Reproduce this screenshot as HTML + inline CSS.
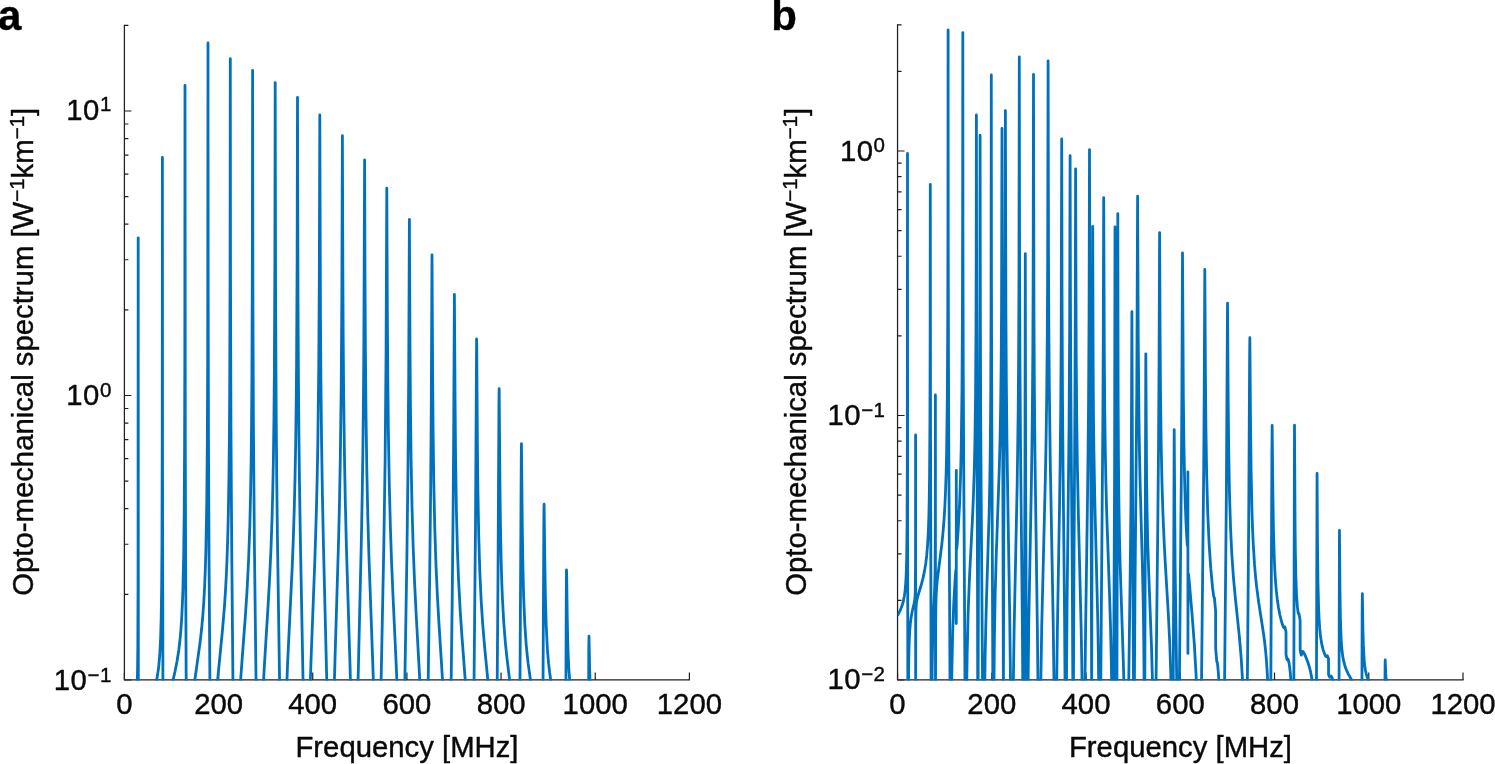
<!DOCTYPE html>
<html lang="en">
<head>
<meta charset="utf-8">
<title>Opto-mechanical spectrum</title>
<style>
html,body{margin:0;padding:0;background:#fff;}
body{width:1495px;height:764px;overflow:hidden;}
svg{display:block;}
text{font-family:"Liberation Sans", sans-serif;font-size:29.3px;fill:#0a0a0a;stroke:#0a0a0a;stroke-width:0.4px;stroke-linejoin:round;}
.pl{font-weight:bold;font-size:42px;fill:#000;}
.curve{fill:none;stroke:#0072BD;stroke-width:2.8;stroke-linejoin:round;stroke-linecap:butt;}
</style>
</head>
<body>
<svg width="1495" height="764" viewBox="0 0 1495 764">
<rect width="1495" height="764" fill="#fff"/>
<defs>
<clipPath id="ca"><rect x="124.40" y="24.30" width="565.00" height="656.20"/></clipPath>
<clipPath id="cb"><rect x="897.55" y="23.80" width="565.45" height="656.70"/></clipPath>
</defs>
<!-- panel a -->
<text class="pl" x="-2" y="30.3">a</text>
<path d="M124.40 24.70V679.80H690.05" fill="none" stroke="#1f1f1f" stroke-width="1.25" stroke-linejoin="miter"/>
<path d="M124.40 680.00h7M124.40 395.50h7M124.40 111.00h7M124.40 594.36h4M124.40 544.26h4M124.40 508.71h4M124.40 481.14h4M124.40 458.62h4M124.40 439.57h4M124.40 423.07h4M124.40 408.52h4M124.40 309.86h4M124.40 259.76h4M124.40 224.21h4M124.40 196.64h4M124.40 174.12h4M124.40 155.07h4M124.40 138.57h4M124.40 124.02h4M124.40 25.36h4M124.40 680.00v-7.4M218.57 680.00v-7.4M312.73 680.00v-7.4M406.90 680.00v-7.4M501.07 680.00v-7.4M595.23 680.00v-7.4M689.40 680.00v-7.4" fill="none" stroke="#1f1f1f" stroke-width="1.2"/>
<text x="124.4" y="714" text-anchor="middle">0</text>
<text x="218.6" y="714" text-anchor="middle">200</text>
<text x="312.7" y="714" text-anchor="middle">400</text>
<text x="406.9" y="714" text-anchor="middle">600</text>
<text x="501.1" y="714" text-anchor="middle">800</text>
<text x="595.2" y="714" text-anchor="middle">1000</text>
<text x="689.4" y="714" text-anchor="middle">1200</text>
<text x="111.8" y="690.3" text-anchor="end" letter-spacing="0.5">10<tspan font-size="20.5" dy="-8.6">−1</tspan></text>
<text x="111.8" y="405.3" text-anchor="end" letter-spacing="0.5">10<tspan font-size="20.5" dy="-8.6">0</tspan></text>
<text x="111.8" y="119.9" text-anchor="end" letter-spacing="0.5">10<tspan font-size="20.5" dy="-8.6">1</tspan></text>
<g clip-path="url(#ca)"><path class="curve" d="M124.40 710L134 710L134.20 709.70L135.37 705.11L136.22 699.51L136.81 692.48L137.28 681.72L137.59 667.36L137.80 648.57L138.05 583.16L138.20 237.80L138.35 710L145 710L149.80 700.09L152.40 694.06L154 689.67L155.20 685.76L156.20 681.89L157.20 677.13L158.60 667.82L159.73 655.47L160.60 638.72L161.20 617.28L161.63 588.59L161.95 546.68L162.25 438.53L162.40 157.30L162.55 474.83L162.97 710L167.20 710L167.40 709.72L168.40 702.46L169.80 694.61L175 671.50L177 661.47L178.80 650L180.20 637.82L181 628.51L181.80 616.19L182.40 603.69L182.89 589.86L183.69 554.66L184.20 511.62L184.57 449.61L184.80 366.68L185 85.40L185.30 443.66L185.65 561.80L186.31 710L191.40 710L191.60 709.35L192.60 698.27L194 685.94L200 643.04L201.60 629.01L202.80 615.83L203.80 601.73L204.60 587.03L205.33 568.96L205.89 550.16L206.76 503.24L207.35 438.23L207.70 353.77L208 43L208.15 283.95L208.45 430.73L209.04 558.50L210.11 710L215.40 710L216.80 690.23L217.80 678.04L222.40 630.80L224.40 607.05L225.40 592.21L226.20 577.76L227 559.64L227.60 542.23L228.32 514.13L228.91 479.72L229.38 437L229.69 392.04L230.10 264.78L230.30 58.70L230.50 273.99L230.95 428.53L231.78 556.41L233.20 709.33L233.30 710L238.80 710L239 709.35L240 690.42L241 674.58L245.40 615.63L247 591.36L248.60 559.93L249.77 526.99L250.49 497.86L251.12 461.40L251.56 423.39L251.91 377.43L252.35 261.70L252.60 70.30L252.90 292.75L253.42 425.12L254.40 545.27L256.40 710L262.20 710L263.20 687.57L264.20 668.57L268.20 603.62L269.60 578.68L271 548.23L272 519.83L272.80 489.48L273.44 456.28L273.96 417.15L274.38 370.35L274.88 261.66L275.20 82.60L275.58 290.91L276.24 422.01L276.77 481.32L277.40 534.79L280 710L285.60 710L285.80 709.90L287.60 663.41L292.20 567.10L293.20 541.86L294.20 511.06L294.99 479.83L295.63 446L296.19 405.12L296.58 363.89L297.12 261.40L297.50 97.30L298.01 302.67L298.37 369.86L298.89 432.76L299.48 482.89L300.33 537.64L303.60 710L309.40 710L311.20 655.44L314.80 561.74L316.40 510.51L317.20 476.95L317.82 443.87L318.76 365.60L319.35 268.96L319.80 114.90L320.45 313.85L320.90 379.82L321.56 441.15L322.40 494.45L323.40 543L327.40 706.10L327.60 710L333.60 710L335 659.47L338.60 539.43L339.40 506.28L340.20 465.16L341.23 385.16L341.86 293.50L342.40 135.70L342.83 267.05L343.17 334.91L343.71 399.65L344.40 452.67L345.23 498L346.40 546.49L350 664.68L351.20 709.51L351.40 710L357.20 710L357.40 709.85L361.40 538.33L362.20 496.24L362.84 454.11L363.43 400.47L363.87 342.14L364.60 159.90L365.05 284.83L365.42 351.13L366 414.72L366.80 469.49L367.80 516.22L369 558.25L372.80 664.07L374.20 708.45L374.40 710L380.40 710L380.60 705.76L383.80 546.67L385.14 459.28L386.07 353.05L386.80 188.20L387.34 311.99L387.78 376.97L388.40 433.50L389.31 485.66L390.40 527.68L391.60 562.49L393 595.78L396.40 669.04L398 710L404.40 710L406.89 556.61L408 467.48L408.71 374.56L409.40 219.30L409.97 342.13L410.40 401.64L411.06 457.72L412 506.67L413.20 547.93L414.60 582.78L416 611.04L419.40 673.14L421.20 710L427.60 710L427.80 709.70L429.77 568.46L430.69 485.40L431.31 399.90L432 254.80L432.61 369.69L433.10 431.02L433.80 483.25L434.80 529.06L436 565.29L437.40 596L439 624.09L442.40 677.78L444.20 710L450.80 710L452.17 602.61L453.09 513.78L453.67 433.86L454.40 294.40L455.09 403.15L455.60 458.82L456.38 509.31L457.40 549.29L458.60 580.72L460.20 610.66L461.80 634.30L465.40 682.12L467.20 710L473.77 710L473.80 708.96L475.50 524.75L476.60 339L476.75 347.80L477.40 444.27L477.91 490.71L478.71 534.61L479.80 571.39L481.20 601.42L482.80 625.45L484.60 646.55L488.60 688.07L490.40 710L497 710L498 578.28L498.95 404.27L499.15 388.70L499.87 477.33L500.41 523.07L501.21 562.99L501.77 581.78L502.40 597.95L503.80 623.16L505.40 643.04L507 658.48L511.20 693.06L513 710L519.83 710L521.25 459.94L521.45 443.70L522.27 524.71L522.80 561.61L523.63 596.17L524.80 624.11L526.20 644.65L527.20 655.22L528.20 663.91L530.40 679.40L535.20 709.41L535.40 710L542.90 710L543.80 530.48L543.95 510.25L544.10 504.20L544.92 568.82L545.40 596.43L546.20 624.82L547.20 645.71L547.80 654.39L548.60 663.45L549.60 672.20L550.60 679.18L551.80 686.12L553 692.09L557.20 710L565.83 710L566.25 598.45L566.50 569.80L566.65 573.76L567.20 614.85L567.64 637.48L568.20 655.82L568.91 670.25L570 683.61L571.20 692.87L572 697.44L573 702.08L575.20 709.99L588.55 710L588.80 647.87L589 636.20L589.67 669.75L590.20 686.65L591.03 700.66L591.63 706.58L592 709.40L592.20 710L689.20 710.00"/></g>
<text transform="translate(32.8 351.8) rotate(-90)" text-anchor="middle">Opto-mechanical spectrum [W<tspan font-size="20.5" dy="-8.6">−1</tspan><tspan dy="8.6">km</tspan><tspan font-size="20.5" dy="-8.6">−1</tspan><tspan dy="8.6">]</tspan></text>
<text x="407" y="756.5" text-anchor="middle">Frequency [MHz]</text>
<!-- panel b -->
<text class="pl" x="771.2" y="30.3">b</text>
<path d="M897.55 24.20V679.80H1463.65" fill="none" stroke="#1f1f1f" stroke-width="1.25" stroke-linejoin="miter"/>
<path d="M897.55 680.00h7M897.55 415.50h7M897.55 151.00h7M897.55 600.38h4M897.55 553.80h4M897.55 520.76h4M897.55 495.12h4M897.55 474.18h4M897.55 456.47h4M897.55 441.13h4M897.55 427.60h4M897.55 335.88h4M897.55 289.30h4M897.55 256.26h4M897.55 230.62h4M897.55 209.68h4M897.55 191.97h4M897.55 176.63h4M897.55 163.10h4M897.55 71.38h4M897.55 24.80h4M897.55 680.00v-7.4M991.79 680.00v-7.4M1086.03 680.00v-7.4M1180.28 680.00v-7.4M1274.52 680.00v-7.4M1368.76 680.00v-7.4M1463.00 680.00v-7.4" fill="none" stroke="#1f1f1f" stroke-width="1.2"/>
<text x="897.5" y="714" text-anchor="middle">0</text>
<text x="991.8" y="714" text-anchor="middle">200</text>
<text x="1086.0" y="714" text-anchor="middle">400</text>
<text x="1180.3" y="714" text-anchor="middle">600</text>
<text x="1274.5" y="714" text-anchor="middle">800</text>
<text x="1368.8" y="714" text-anchor="middle">1000</text>
<text x="1463.0" y="714" text-anchor="middle">1200</text>
<text x="885.5" y="689.3" text-anchor="end" letter-spacing="0.5">10<tspan font-size="20.5" dy="-8.6">−2</tspan></text>
<text x="885.5" y="425.3" text-anchor="end" letter-spacing="0.5">10<tspan font-size="20.5" dy="-8.6">−1</tspan></text>
<text x="885.5" y="160.7" text-anchor="end" letter-spacing="0.5">10<tspan font-size="20.5" dy="-8.6">0</tspan></text>
<g clip-path="url(#cb)"><path class="curve" d="M897.55 615.48L899.95 610.95L901.75 606.58L903.15 601.98L904.35 596.17L905.15 590.10L905.84 581.48L906.26 572.50L906.63 559.28L907.05 526.74L907.30 469.34L907.50 153.52L907.60 458.01L907.84 710L908.27 710L908.75 659.49L909.15 643.27L909.73 630.99L910.35 623.52L911.15 617.24L912.15 611.74L914.03 603.52L914.68 599.99L915.06 596.33L915.29 591.05L915.53 560.19L915.60 435.02L915.65 710L915.75 626.22L915.88 613.40L916.15 605.86L916.52 602.16L917.08 599.14L918.11 595.23L921.35 584.49L922.95 578.40L924.55 570.90L925.75 563.52L926.75 555.16L927.63 544.48L928.32 531.94L928.82 517.52L929.20 500.98L929.53 478.19L929.92 423.36L930.15 338.25L930.30 184.41L930.55 438.81L931.15 710L931.78 710L932.28 660.83L932.73 636.16L933.42 614.61L934.71 586.47L935.08 570.50L935.31 526.93L935.40 395L935.50 710L935.65 627.07L935.83 608L936.17 595.23L936.64 587.24L937.27 580.25L941.75 544.84L942.95 533.20L943.95 520.97L944.75 508.28L945.55 490.98L946.15 472.52L946.62 451.79L947.33 396.98L947.74 322.92L947.95 232.08L948.10 30L948.25 244.63L948.50 368.83L948.87 463.80L950.15 710L951.35 710L951.95 666.84L952.75 630.49L953.79 602.55L955.26 576.71L955.85 570.12L955.93 569.82L956 569.99L956.11 572.26L956.29 623.50L956.30 470.38L956.38 538.64L956.50 547.70L956.60 549.08L956.66 549.17L956.73 548.95L957.28 543.20L958.15 530.48L959.55 504.22L960.55 476.56L961.23 447.53L961.98 389.95L962.42 314.12L962.65 216.34L962.80 32.59L962.95 226.67L963.25 363.69L963.67 457.39L965.15 710L966.35 710L967.15 655.04L968.15 612.39L969.55 576.19L972.35 521.09L973.35 498.22L974.29 469.46L974.92 441.53L975.55 395.25L975.97 332.23L976.20 258.21L976.40 114.98L976.70 332.04L977.50 584.99L977.75 710L977.99 710L978.06 703.17L978.44 580.68L979.62 383.19L979.90 285.17L980.10 135.18L980.35 312.61L980.67 411.27L981.14 490.62L982.75 709.25L982.77 710L984.35 710L985.15 657.31L985.75 627.65L986.55 597.53L989.15 512.85L989.82 480.74L990.32 444.67L990.76 389.78L991.05 312.15L991.30 74.97L991.45 272.73L991.66 382.37L992.95 710L993.75 710L994.35 642L995.15 594.78L996.15 558.40L999.33 467.27L1000.02 440.86L1000.61 409.84L1001.15 365.94L1001.52 313.21L1002 128.36L1002.32 309.61L1002.98 524.82L1003.39 710L1003.76 542.07L1005 296L1005.40 110.56L1005.91 312.46L1006.35 382.18L1006.97 441.98L1007.75 496.55L1009.75 617.90L1010.75 702.96L1010.95 710L1012.95 710L1014.15 628.31L1017.19 483.89L1018.20 409.84L1018.65 350.97L1018.96 279.20L1019.30 56.84L1019.55 251.02L1019.99 370.69L1020.61 456.10L1022.35 622.31L1022.95 710L1023.91 710L1023.95 703L1024.94 477.92L1025.30 253.73L1025.66 482.91L1026.61 710L1027.81 710L1028.75 624.24L1031.39 482.72L1032.02 439.87L1032.46 398.94L1032.85 345.48L1033.15 277.05L1033.50 74.42L1033.95 309.67L1034.35 385.43L1034.95 453.46L1037.35 627.79L1038.15 700.69L1038.35 710L1040.35 710L1041.75 625.64L1045.35 477.90L1046.12 437.69L1046.71 396.12L1047.28 335.39L1047.65 269.09L1048.10 60.80L1048.50 258.48L1048.83 326.51L1049.27 383L1050.21 458.51L1053.15 620.15L1054.35 710L1056.35 710L1057.35 632.14L1059.47 509.68L1060.13 464.46L1060.75 405.88L1061.16 342.89L1061.70 138.98L1062.04 296.46L1062.52 400.71L1063.09 471.79L1064.55 614.12L1065.15 701.76L1065.35 710L1066.15 710L1066.35 700.26L1067.10 602.75L1069.06 426.26L1069.67 323.83L1070.10 155.77L1070.40 288.45L1070.71 368.48L1071.15 437.74L1072.35 583.66L1072.93 710L1073.37 710L1073.84 591.45L1074.91 403.17L1075.26 313.55L1075.60 168.86L1076.21 356.12L1076.70 416.28L1077.35 464.11L1078.35 513.79L1081.15 628.39L1081.75 660.93L1082.35 704.32L1082.55 710L1084.55 710L1084.75 704.99L1085.55 632.26L1087.63 490.62L1088.46 415.12L1089.07 314.42L1089.50 149.73L1089.95 327.12L1091.22 545.66L1091.66 698.53L1092.70 226.32L1093.15 367.56L1093.47 413.76L1093.87 449.12L1094.81 501.18L1097.75 619.46L1098.35 653.87L1098.95 704.72L1099.15 710L1100.55 710L1102.88 416.87L1103.27 336.90L1103.70 197.69L1104.31 355L1104.74 408.07L1105.27 448.92L1105.93 483.65L1106.70 513.09L1109.55 595.10L1110.55 627.92L1111.35 664.24L1112 710L1113.52 710L1114.60 468.95L1115 226.86L1115.20 376.58L1115.45 466.83L1116.23 620.62L1116.55 710L1116.88 710L1117.55 411.51L1117.80 213.65L1118.15 403.47L1118.45 458.74L1118.90 503.33L1119.46 536.61L1120.15 564.95L1123.35 662.49L1124.55 709.95L1128.35 710L1130.24 569.65L1130.92 505.52L1131.39 436.84L1131.90 311.59L1132.44 465.46L1133.56 698.68L1133.66 710L1134.27 710L1134.90 602.99L1136.78 390.42L1137.60 196.26L1138.21 336.58L1138.95 417.69L1139.47 451.44L1140.11 482.65L1142.35 564.23L1143.15 599.23L1143.75 640.37L1144.32 710L1144.76 710L1145.80 353.82L1146.57 475.22L1147.04 510.04L1147.78 543.85L1148.63 570.23L1151.55 648.17L1152.35 676.96L1152.95 705.74L1153.15 710L1155.75 710L1157.84 519.67L1158.50 448.79L1159.03 367.62L1159.60 232.61L1160.14 342.22L1160.52 392.86L1161.15 442.99L1161.95 481.89L1162.95 514.13L1164.15 542L1165.35 564.32L1168.35 614.48L1169.75 643.24L1170.75 672.80L1171.53 710L1173.16 710L1174.20 429.64L1175.12 566.39L1177.03 703.54L1177.15 710L1179.15 710L1181.46 460.61L1181.93 385.44L1182.50 252.98L1183.37 399.23L1183.89 443.15L1184.61 480.14L1185.23 502.48L1186.03 523.36L1186.92 540.43L1187.29 545.16L1187.52 546.14L1187.70 542.52L1187.80 532.47L1187.89 471.79L1187.93 653.47L1188.05 584.15L1188.20 575.21L1188.33 573.77L1188.41 573.73L1188.51 574.11L1189.21 580.88L1192.15 615.34L1194.35 644.40L1195.95 672.31L1196.75 691.09L1197.35 709.07L1197.55 710L1201.15 710L1201.35 699.23L1203.70 470.40L1204.19 396.29L1204.80 269.34L1205.41 372.22L1205.90 426.35L1206.67 474.63L1207.75 513.49L1209.15 544.41L1210.75 568.20L1212.60 588L1213.62 595.63L1214.03 597.45L1214.21 597.76L1214.36 597.69L1214.43 597.98L1215.60 610.78L1215.65 648.43L1216.77 661.70L1216.84 661.94L1216.99 661.61L1217.15 661.82L1217.47 663.42L1218.35 672.54L1219.15 685.11L1220.35 710L1224.15 710L1224.35 707.36L1226.40 491.85L1227.50 303.09L1228.23 405.34L1228.74 452.23L1229.48 493.14L1230.55 527.96L1231.75 553.08L1233.35 576.33L1235.15 596.14L1239.35 636.35L1241.15 657.52L1242.55 680.37L1243.75 710L1247.15 710L1248.70 520.52L1249.65 353.30L1249.85 337.69L1250.55 425.47L1251.11 471.26L1251.95 510.34L1252.47 526.24L1253.15 542.23L1254.55 564.91L1255.55 576.55L1256.55 586.06L1258.75 602.77L1263.75 635.19L1264.75 643L1265.75 652.41L1266.55 661.92L1267.35 674.55L1267.95 687.60L1268.75 710L1270.71 710L1271.90 455.07L1272.15 425.39L1272.92 496.80L1273.49 531.44L1274.35 559.98L1274.93 572.08L1275.55 581.77L1276.35 591.16L1277.35 599.96L1278.55 607.96L1279.75 614.25L1281.35 620.94L1282.75 625.47L1283.49 627.18L1284.02 627.85L1284.24 627.90L1284.43 627.75L1284.83 626.86L1286 631.60L1286.05 654.86L1287.17 659.86L1287.48 659.01L1287.75 658.84L1287.98 659.10L1288.35 660.03L1288.95 662.59L1289.55 666.29L1290.35 673.31L1291.15 684.21L1291.67 695.30L1292.13 710L1293.77 710L1294.50 425.27L1295.07 525.21L1295.37 551.83L1295.81 575.07L1296.48 594.06L1297.33 606.58L1298.12 612.50L1298.53 613.69L1298.71 613.68L1298.86 613.31L1298.93 613.39L1300.10 620L1300.15 650.28L1301.27 655.15L1301.76 652.36L1302.08 651.61L1302.35 651.39L1302.75 651.46L1303.15 651.82L1304.55 654.19L1306.35 658.27L1307.95 662.54L1309.35 666.99L1310.35 670.84L1311.75 677.98L1312.95 687.45L1313.75 697.65L1314.35 709.86L1314.49 710L1316.35 710L1316.39 708.79L1317.05 473.28L1317.51 545.25L1317.95 582.12L1318.66 609.66L1319.15 620.03L1319.75 628.65L1320.35 634.74L1321.15 640.63L1322.15 645.92L1323.15 649.85L1324.35 653.40L1325.50 655.82L1326.13 656.63L1326.55 656.83L1326.93 656.61L1327.33 655.80L1328.50 658.51L1328.55 674.73L1329.67 677.31L1330.07 676.25L1330.48 675.89L1331.01 676.13L1331.75 677.15L1333.15 680.43L1334.55 685.51L1335.35 689.79L1336.15 696.02L1336.73 702.93L1337.15 710L1339 710L1339.45 530.28L1339.94 589.22L1340.38 617.29L1341.06 637.49L1341.55 645.33L1342.15 651.78L1342.75 656.31L1343.55 660.70L1344.55 664.71L1345.75 668.32L1346.95 671.21L1348.35 674.07L1353.15 682.51L1354.75 685.59L1356.15 688.83L1357.15 691.78L1357.95 694.84L1358.75 699.05L1359.37 703.78L1359.95 710L1361.88 710L1362.15 614.30L1362.35 593.70L1362.93 629.96L1363.44 647.67L1364.18 660.35L1364.71 665.50L1365.35 669.78L1366.15 673.54L1366.95 676.29L1367.95 678.92L1369.35 681.75L1370.75 684L1372.35 686.18L1378.95 694.06L1380.15 695.83L1381.15 697.70L1382 699.87L1382.75 702.77L1383.24 705.71L1383.69 710L1384.80 710L1385.05 668.61L1385.20 659.95L1385.77 673.64L1386.17 679.84L1386.76 684.98L1387.23 687.41L1387.75 689.29L1388.35 690.90L1389.15 692.50L1390.15 694.01L1391.15 695.22L1392.55 696.63L1394.15 697.99L1398.15 700.83L1401.55 702.91L1405.55 705.15L1415.15 710L1462.95 710.00"/></g>
<text transform="translate(805.9 351.8) rotate(-90)" text-anchor="middle">Opto-mechanical spectrum [W<tspan font-size="20.5" dy="-8.6">−1</tspan><tspan dy="8.6">km</tspan><tspan font-size="20.5" dy="-8.6">−1</tspan><tspan dy="8.6">]</tspan></text>
<text x="1180.5" y="756.5" text-anchor="middle">Frequency [MHz]</text>
</svg>
</body>
</html>
